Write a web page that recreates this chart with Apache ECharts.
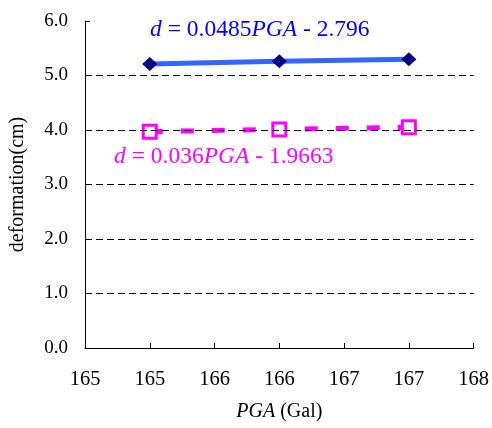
<!DOCTYPE html>
<html>
<head>
<meta charset="utf-8">
<script src="https://cdn.jsdelivr.net/npm/echarts@6/dist/echarts.min.js"></script>
<style>
html,body{margin:0;padding:0;background:#fff;}
#c{width:492px;height:428px;}
</style>
</head>
<body>
<div id="c"></div>
<script>
// Data
const pga = [165, 166, 167];
const deformA = [5.21, 5.26, 5.30];
const deformB = [3.97, 4.01, 4.05];
const gridValues = [1, 2, 3, 4, 5];
const eqA = ['d', ' = 0.0485', 'PGA', ' - 2.796'];
const eqB = ['d', ' = 0.036', 'PGA', ' - 1.9663'];
const xTitle = ['PGA', ' (Gal)'];
const yTitle = 'deformation(cm)';

const FONT = '"Liberation Serif", "Times New Roman", serif';

function eqText(parts) {
  return '{i|' + parts[0] + '}{n|' + parts[1] + '}{i|' + parts[2] + '}{n|' + parts[3] + '}';
}

const chart = echarts.init(document.getElementById('c'), null, {renderer: 'canvas'});
chart.setOption({
  backgroundColor: '#ffffff',
  animation: false,
  grid: {left: 83, right: 18, top: 21, bottom: 80},
  xAxis: {
    type: 'value',
    min: 164.5, max: 167.5, interval: 0.5,
    axisLine: {lineStyle: {color: '#000', width: 1}},
    axisTick: {inside: true, length: 5, lineStyle: {color: '#000'}},
    axisLabel: {
      color: '#000', fontFamily: FONT, fontSize: 20.5, margin: 21,
      formatter: v => String(Math.round(v + 1e-9))
    },
    splitLine: {show: false},
    name: '{i|' + xTitle[0] + '}{n|' + xTitle[1] + '}',
    nameLocation: 'middle', nameGap: 54,
    nameTextStyle: {
      fontFamily: FONT, fontSize: 20, color: '#000',
      rich: {
        i: {fontFamily: FONT, fontSize: 20, fontStyle: 'italic', color: '#000'},
        n: {fontFamily: FONT, fontSize: 20, color: '#000'}
      }
    }
  },
  yAxis: {
    type: 'value',
    min: 0, max: 6, interval: 1,
    axisLine: {show: true, lineStyle: {color: '#000', width: 1}},
    axisTick: {show: true, inside: true, length: 5, lineStyle: {color: '#000'}},
    axisLabel: {
      color: '#000', fontFamily: FONT, fontSize: 19, margin: 17,
      formatter: v => v.toFixed(1)
    },
    splitLine: {show: false},
    name: yTitle,
    nameLocation: 'middle', nameGap: 57, nameRotate: 90,
    nameTextStyle: {fontFamily: FONT, fontSize: 20, color: '#000'}
  },
  series: [
    {
      type: 'line',
      data: pga.map((x, i) => [x, deformA[i]]),
      symbol: 'diamond', symbolSize: [15, 14],
      itemStyle: {color: '#000080'},
      lineStyle: {color: '#3366FF', width: 5},
      z: 3,
      markLine: {
        silent: true, symbol: 'none',
        label: {show: false},
        lineStyle: {color: '#000', type: [7, 4], width: 1},
        data: gridValues.map(v => ({yAxis: v}))
      }
    },
    {
      type: 'line',
      data: pga.map((x, i) => [x, deformB[i]]),
      symbol: 'rect', symbolSize: 13,
      itemStyle: {color: '#fff', borderColor: '#FF00FF', borderWidth: 3},
      lineStyle: {color: '#FF00FF', width: 5, type: [13, 18]},
      z: 4
    }
  ],
  graphic: [
    {
      type: 'text', left: 150, top: 18, z: 10,
      style: {
        text: eqText(eqA), fill: '#0000FF',
        rich: {
          i: {fontFamily: FONT, fontSize: 23.5, fontStyle: 'italic', fill: '#0000FF'},
          n: {fontFamily: FONT, fontSize: 23.5, fill: '#0000FF'}
        }
      }
    },
    {
      type: 'text', left: 114, top: 145, z: 10,
      style: {
        text: eqText(eqB), fill: '#FF00FF',
        rich: {
          i: {fontFamily: FONT, fontSize: 23.5, fontStyle: 'italic', fill: '#FF00FF'},
          n: {fontFamily: FONT, fontSize: 23.5, fill: '#FF00FF'}
        }
      }
    }
  ]
});
</script>
</body>
</html>
